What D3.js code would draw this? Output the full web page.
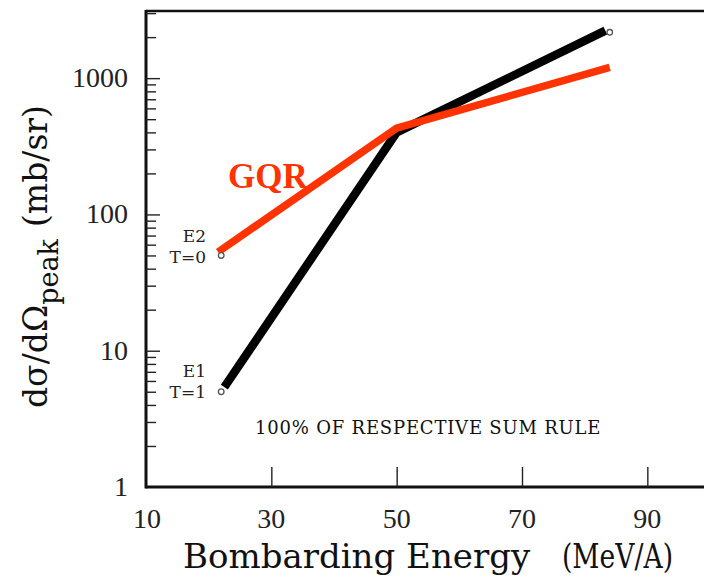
<!DOCTYPE html>
<html>
<head>
<meta charset="utf-8">
<script src="https://cdn.jsdelivr.net/npm/d3@7"></script>
<style>
  html, body { margin: 0; padding: 0; background: #fff; }
  svg { display: block; }
</style>
</head>
<body>
<svg id="chart" width="704" height="577"></svg>
<script>
// ---- data ----
const xTicks = [30, 50, 70, 90];
const xTickLabels = ["10", "30", "50", "70", "90"];
const xTickLabelValues = [10, 30, 50, 70, 90];
const yTickLabelValues = [1, 10, 100, 1000];
const yTickLabels = ["1", "10", "100", "1000"];

// E1 T=1 (black) line
const e1Energy = [22.5, 50, 83.3];
const e1Sigma = [5.4, 400, 2230];
// E2 T=0 / GQR (red) line
const e2Energy = [21.5, 50, 84];
const e2Sigma = [53, 430, 1200];
// small open-circle endpoint markers
const markerEnergy = [22, 22, 84];
const markerSigma = [5, 50, 2170];

const xDomain = [10, 100];
const yDomain = [1, Math.pow(10, 3.5)];

// ---- layout ----
const svg = d3.select("#chart");
const mLeft = 146, mTop = 10, mBottom = 487, mRight = 710;

const x = d3.scaleLinear().domain(xDomain).range([mLeft, mRight]);
const y = d3.scaleLog().domain(yDomain).range([mBottom, mTop]);

const serif = "'DejaVu Serif', serif";
const times = "'Liberation Serif', serif";

// frame
svg.append("line").attr("x1", mLeft).attr("x2", mRight).attr("y1", mTop + 1).attr("y2", mTop + 1)
  .attr("stroke", "#111").attr("stroke-width", 2.5);
svg.append("line").attr("x1", mLeft).attr("x2", mRight).attr("y1", mBottom).attr("y2", mBottom)
  .attr("stroke", "#111").attr("stroke-width", 3);
svg.append("line").attr("x1", mLeft).attr("x2", mLeft).attr("y1", mTop).attr("y2", mBottom + 1.5)
  .attr("stroke", "#111").attr("stroke-width", 3);

// y axis ticks (inward), majors + minors
const yAxis = d3.axisRight(y)
  .tickValues(y.ticks().filter(v => v > 1 && v < yDomain[1]))
  .tickSize(0).tickFormat("");
const yg = svg.append("g").attr("transform", `translate(${mLeft},0)`).call(yAxis);
yg.select(".domain").remove();
yg.selectAll(".tick line")
  .attr("x2", d => (yTickLabelValues.includes(d) ? 14 : 10))
  .attr("stroke", "#222").attr("stroke-width", 1.4);

// y tick labels
svg.append("g").selectAll("text").data(yTickLabelValues).join("text")
  .attr("x", 128).attr("y", d => y(d) + 9)
  .attr("text-anchor", "end")
  .attr("font-family", times).attr("font-size", 28).attr("fill", "#222")
  .text((d, i) => yTickLabels[i]);

// x axis ticks (inward)
const xAxis = d3.axisTop(x).tickValues(xTicks).tickSize(20).tickFormat("");
const xg = svg.append("g").attr("transform", `translate(0,${mBottom})`).call(xAxis);
xg.select(".domain").remove();
xg.selectAll(".tick line").attr("stroke", "#222").attr("stroke-width", 1.4);

// x tick labels
svg.append("g").selectAll("text").data(xTickLabelValues).join("text")
  .attr("x", (d, i) => x(d) + (i === 0 ? 1 : 0)).attr("y", 528)
  .attr("text-anchor", "middle")
  .attr("font-family", times).attr("font-size", 28).attr("fill", "#222")
  .text((d, i) => xTickLabels[i]);

// x title
svg.append("text").attr("x", 183).attr("y", 568)
  .attr("font-family", serif).attr("font-size", 34).attr("fill", "#111")
  .text("Bombarding Energy");
svg.append("text").attr("x", 562).attr("y", 568)
  .attr("font-family", serif).attr("font-size", 34).attr("fill", "#111")
  .attr("textLength", 111).attr("lengthAdjust", "spacingAndGlyphs")
  .text("(MeV/A)");

// y title (rotated)
const yt = svg.append("text")
  .attr("transform", "translate(47,408) rotate(-90)")
  .attr("font-family", serif).attr("fill", "#111");
yt.append("tspan").attr("font-size", 33).text("dσ/dΩ");
yt.append("tspan").attr("font-size", 27).attr("dy", 11).text("peak");
yt.append("tspan").attr("font-size", 33).attr("dy", -11).attr("dx", 12).text("(mb/sr)");

// lines
const line = d3.line().x(d => x(d[0])).y(d => y(d[1]));
svg.append("path").datum(e1Energy.map((e, i) => [e, e1Sigma[i]]))
  .attr("d", line).attr("fill", "none").attr("stroke", "#000")
  .attr("stroke-width", 8.5).attr("stroke-linejoin", "round");
svg.append("path").datum(e2Energy.map((e, i) => [e, e2Sigma[i]]))
  .attr("d", line).attr("fill", "none").attr("stroke", "#ff3300")
  .attr("stroke-width", 7.5).attr("stroke-linejoin", "round");

// markers
svg.append("g").selectAll("circle").data(markerEnergy).join("circle")
  .attr("cx", d => x(d)).attr("cy", (d, i) => y(markerSigma[i]))
  .attr("r", 2.8).attr("fill", "#fff").attr("stroke", "#555").attr("stroke-width", 1.3);

// annotations
svg.append("text").attr("x", 228).attr("y", 188)
  .attr("font-family", times).attr("font-weight", "bold").attr("font-size", 35)
  .attr("fill", "#ff3300").text("GQR");

const lab = svg.append("g").attr("font-family", serif).attr("font-size", 17)
  .attr("fill", "#222").attr("text-anchor", "end");
lab.append("text").attr("x", 206).attr("y", 242).text("E2");
lab.append("text").attr("x", 206).attr("y", 263).text("T=0");
lab.append("text").attr("x", 206).attr("y", 377).text("E1");
lab.append("text").attr("x", 206).attr("y", 398).text("T=1");

svg.append("text").attr("x", 255).attr("y", 434)
  .attr("font-family", serif).attr("font-size", 18).attr("letter-spacing", 0.8)
  .attr("fill", "#111")
  .text("100% OF RESPECTIVE SUM RULE");
</script>
</body>
</html>
